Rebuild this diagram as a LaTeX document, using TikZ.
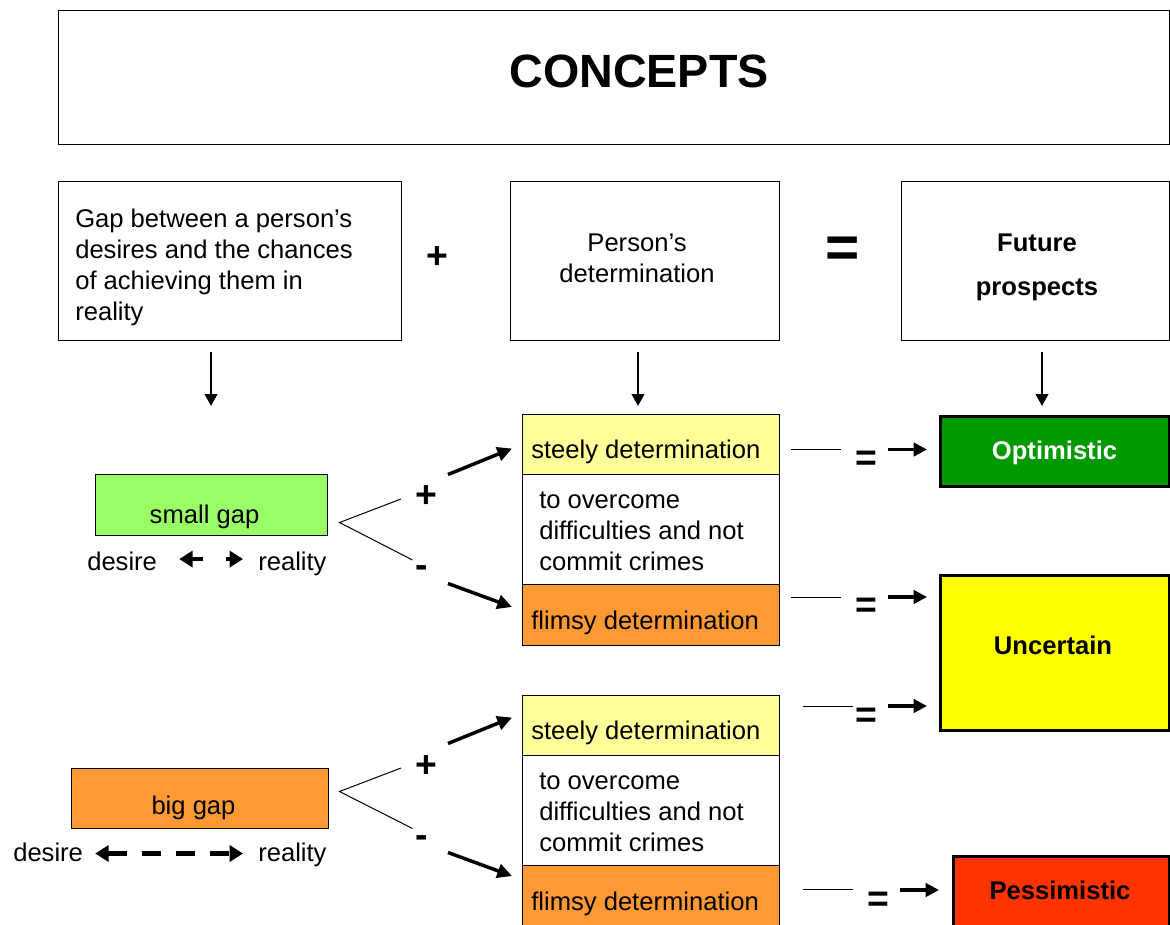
\documentclass[tikz,border=0pt]{standalone}
\usepackage{fontspec}
\setmainfont{Liberation Sans}
\usetikzlibrary{arrows.meta}
\definecolor{paleyellow}{HTML}{FFFF99}
\definecolor{gaporange}{HTML}{FF9933}
\definecolor{gapgreen}{HTML}{99FF66}
\definecolor{optgreen}{HTML}{009900}
\definecolor{uncyellow}{HTML}{FFFF00}
\definecolor{pessred}{HTML}{FF3300}

\begin{document}
\begin{tikzpicture}[x=0.75pt, y=-0.75pt,
  frame/.style={draw=black, line width=0.8pt, rectangle, inner sep=0pt, anchor=north west},
  result/.style={frame, line width=2.6pt},
  wh/.style 2 args={minimum width=#1*0.75pt, minimum height=#2*0.75pt},
  body/.style={inner sep=0pt, font=\fontsize{19.2}{23.25}\selectfont},
  oneline/.style={body, text height=13.8pt, text depth=4pt},
  sym/.style={inner sep=0pt, font=\fontsize{28}{28}\selectfont\bfseries},
  down/.style={line width=1.5pt, -{Triangle[length=9pt, width=9.5pt]}},
  branch/.style={line width=0.75pt},
  boldarrow/.style={line width=2.6pt, -{Triangle[length=11pt, width=10.5pt]}},
  resultarrow/.style={line width=2.4pt, -{Triangle[length=10pt, width=10pt]}},
  gaparrow/.style={line width=3.4pt, {Triangle[length=10pt, width=12pt]}-{Triangle[length=10pt, width=12pt]}},
]
\useasboundingbox (0,0) rectangle (1170,924);
\clip (0,0) rectangle (1170,924);

% ---------- header row ----------
\node[frame, wh={1111}{134}] (title) at (58,10) {};
\node[inner sep=0pt, font=\fontsize{35}{35}\selectfont\bfseries] (titletext) at (639,71.5) {CONCEPTS};

\node[frame, wh={343}{159}] (gapq) at (58,181) {};
\node[body, align=left, anchor=west] (gapqtext) at (75,267)
  {Gap between a person’s\\desires and the chances\\of achieving them in\\reality};
\node[frame, wh={269}{159}] (detq) at (510,181) {};
\node[body, align=center] (detqtext) at (637,258) {Person’s\\determination};
\node[frame, wh={268}{159}] (prospq) at (901,181) {};
\node[body, align=center, font=\fontsize{19.2}{23.25}\selectfont\bfseries] (prospqtext) at (1037,267.5)
  {Future\\[9.75pt]prospects};

\node[sym] (plustop) at (437.5,258) {+};
\node[inner sep=0pt, font=\fontsize{44}{44}\selectfont\bfseries] (eqtop) at (843,252) {=};

% ---------- down arrows ----------
\coordinate (d1a) at (211,352);  \coordinate (d1b) at (211,406);
\coordinate (d2a) at (638,352);  \coordinate (d2b) at (638,406);
\coordinate (d3a) at (1042,352); \coordinate (d3b) at (1042,406);
\draw[down] (d1a) -- (d1b);
\draw[down] (d2a) -- (d2b);
\draw[down] (d3a) -- (d3b);

% ---------- gap boxes ----------
\node[frame, fill=gapgreen, wh={232}{61}] (small) at (95,474) {};
\node[oneline] (smalltext) at (204.5,517) {small gap};
\node[oneline, anchor=west] (desA) at (87,564) {desire};
\node[oneline, anchor=west] (realA) at (258,564) {reality};
\draw[gaparrow, dash pattern=on 8.5pt off 17pt, shorten <=16.5pt, shorten >=11.25pt]
  ([yshift=3.7pt]desA.east) -- ([yshift=3.7pt]realA.west);

\node[frame, fill=gaporange, wh={257}{60}] (big) at (70.5,768) {};
\node[oneline] (bigtext) at (193.5,807.5) {big gap};
\node[oneline, anchor=west] (desB) at (13,855) {desire};
\node[oneline, anchor=west] (realB) at (258,855) {reality};
\draw[gaparrow, dash pattern=on 14.25pt off 11.25pt, shorten <=9pt, shorten >=11.25pt]
  ([yshift=1.1pt]desB.east) -- ([yshift=1.1pt]realB.west);

% ---------- branches ----------
\coordinate (vA) at (339.5,522.5); \coordinate (vAu) at (401,499); \coordinate (vAl) at (412.5,560);
\draw[branch] (vAu) -- (vA) -- (vAl);
\node[sym] (plusA) at (426.5,497) {+};
\node[sym] (minusA) at (422,571.5) {-};
\coordinate (bAu1) at (448,474.5); \coordinate (bAu2) at (512,448.5);
\coordinate (bAl1) at (448,583.5); \coordinate (bAl2) at (512,607);
\draw[boldarrow] (bAu1) -- (bAu2);
\draw[boldarrow] (bAl1) -- (bAl2);

\coordinate (vB) at (339.5,791.5); \coordinate (vBu) at (401,768); \coordinate (vBl) at (412.5,828.5);
\draw[branch] (vBu) -- (vB) -- (vBl);
\node[sym] (plusB) at (426,766.5) {+};
\node[sym] (minusB) at (422,841.5) {-};
\coordinate (bBu1) at (448,743.5); \coordinate (bBu2) at (512,717.5);
\coordinate (bBl1) at (448,852.5); \coordinate (bBl2) at (512,876);
\draw[boldarrow] (bBu1) -- (bBu2);
\draw[boldarrow] (bBl1) -- (bBl2);

% ---------- determination columns ----------
\node[frame, fill=paleyellow, wh={257}{60}] (steelyA) at (522,413.5) {};
\node[frame, wh={257}{110}] (midA) at (522,473.5) {};
\node[frame, fill=gaporange, wh={257}{61.5}] (flimsyA) at (522,583.5) {};
\node[oneline, anchor=west] (steelyAtext) at (531,452) {steely determination};
\node[body, align=left, anchor=west] (midAtext) at (539,531)
  {to overcome\\difficulties and not\\commit crimes};
\node[oneline, anchor=west] (flimsyAtext) at (531,623) {flimsy determination};

\node[frame, fill=paleyellow, wh={257}{60}] (steelyB) at (522,694.5) {};
\node[frame, wh={257}{110}] (midB) at (522,754.5) {};
\node[frame, fill=gaporange, wh={257}{75}] (flimsyB) at (522,864.5) {};
\node[oneline, anchor=west] (steelyBtext) at (531,733) {steely determination};
\node[body, align=left, anchor=west] (midBtext) at (539,812)
  {to overcome\\difficulties and not\\commit crimes};
\node[oneline, anchor=west] (flimsyBtext) at (531,904) {flimsy determination};

% ---------- outcomes ----------
\node[result, fill=optgreen, wh={229}{70.5}] (opt) at (939,414.5) {};
\node[oneline, text=white, font=\fontsize{19.2}{23.25}\selectfont\bfseries] (opttext) at (1054.5,453) {Optimistic};
\node[result, fill=uncyellow, wh={229}{155.5}] (unc) at (939,573.5) {};
\node[oneline, font=\fontsize{19.2}{23.25}\selectfont\bfseries] (unctext) at (1053,648) {Uncertain};
\node[result, fill=pessred, wh={216}{90}] (pess) at (952,855) {};
\node[oneline, font=\fontsize{19.2}{23.25}\selectfont\bfseries] (pesstext) at (1060,893) {Pessimistic};

% ---------- "= ->" links to the outcomes ----------
\coordinate (r1a) at (791,449.5); \coordinate (r1b) at (841,449.5);
\coordinate (r1c) at (888,449.5); \coordinate (r1d) at (927,449.5);
\draw[branch] (r1a) -- (r1b);
\node[sym] (eq1) at (866,461) {=};
\draw[resultarrow] (r1c) -- (r1d);

\coordinate (r2a) at (791,597); \coordinate (r2b) at (841,597);
\coordinate (r2c) at (888,597); \coordinate (r2d) at (927,597);
\draw[branch] (r2a) -- (r2b);
\node[sym] (eq2) at (866,608) {=};
\draw[resultarrow] (r2c) -- (r2d);

\coordinate (r3a) at (803,706); \coordinate (r3b) at (853,706);
\coordinate (r3c) at (888,706); \coordinate (r3d) at (927,706);
\draw[branch] (r3a) -- (r3b);
\node[sym] (eq3) at (866,718) {=};
\draw[resultarrow] (r3c) -- (r3d);

\coordinate (r4a) at (803,889.5); \coordinate (r4b) at (853,889.5);
\coordinate (r4c) at (900,890); \coordinate (r4d) at (939,890);
\draw[branch] (r4a) -- (r4b);
\node[sym] (eq4) at (878.5,902) {=};
\draw[resultarrow] (r4c) -- (r4d);
\end{tikzpicture}
\end{document}
